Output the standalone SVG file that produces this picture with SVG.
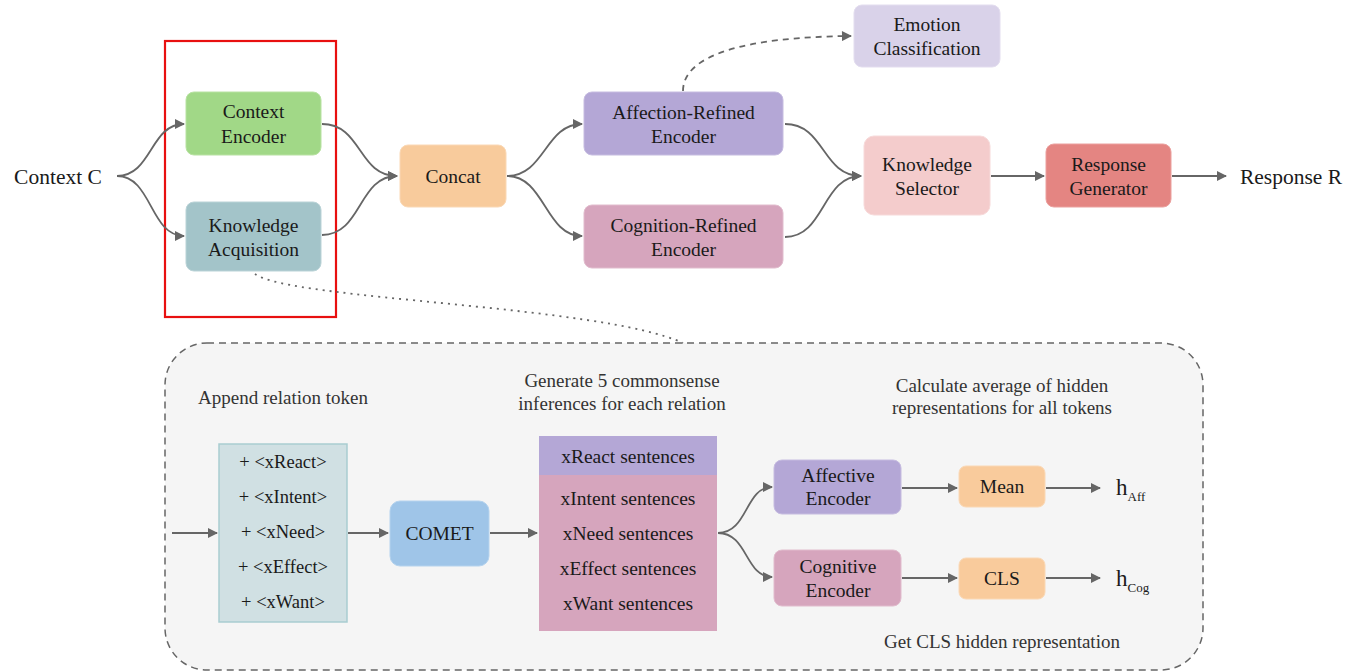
<svg xmlns="http://www.w3.org/2000/svg" width="1345" height="672" viewBox="0 0 1345 672">
<style>
text{font-family:"Liberation Serif","DejaVu Serif",serif;fill:#1a1a1a;text-anchor:middle}
.lbl{font-size:19.5px}
.sm{font-size:18.5px}
.cap{font-size:19px;fill:#333}
.edge{fill:none;stroke:#666;stroke-width:1.8}
.dash{stroke-dasharray:6 5}
.dot{stroke-dasharray:2 5}
</style>
<defs>
<marker id="ah" viewBox="0 0 10 10" refX="9" refY="5" markerWidth="11" markerHeight="10" markerUnits="userSpaceOnUse" orient="auto">
<path d="M0,0 L10,5 L0,10 z" fill="#666"/>
</marker>
</defs>
<rect x="0" y="0" width="1345" height="672" fill="#fff"/>

<g id="detail-panel">
<rect x="165" y="343" width="1038" height="327" rx="42" fill="#f5f5f5" stroke="#666" stroke-width="1.5" stroke-dasharray="7 5"/>
</g>

<g id="highlight">
<rect x="165" y="41" width="171" height="276" fill="none" stroke="#e81010" stroke-width="2.2"/>
</g>

<g id="connectors">
<path class="edge" d="M117,176 C152,176 150,124 184,124" marker-end="url(#ah)"/>
<path class="edge" d="M117,176 C152,176 150,236 184,236" marker-end="url(#ah)"/>
<path class="edge" d="M322,124 C362,124 358,176 397,176" marker-end="url(#ah)"/>
<path class="edge" d="M322,235 C362,235 358,176 397,176" marker-end="url(#ah)"/>
<path class="edge" d="M507,176 C545,176 545,124 582,124" marker-end="url(#ah)"/>
<path class="edge" d="M507,176 C545,176 545,236 582,236" marker-end="url(#ah)"/>
<path class="edge" d="M785,124 C825,124 822,176 861,176" marker-end="url(#ah)"/>
<path class="edge" d="M785,237 C825,237 822,176 861,176" marker-end="url(#ah)"/>
<path class="edge" d="M991,176 L1044,176" marker-end="url(#ah)"/>
<path class="edge" d="M1172,176 L1226,176" marker-end="url(#ah)"/>
<path class="edge dash" d="M683,91 C683,55 745,37 851,36" marker-end="url(#ah)"/>
<path class="edge dot" d="M255,274 C290,300 600,305 683,343"/>
<path class="edge" d="M172,533 L217,533" marker-end="url(#ah)"/>
<path class="edge" d="M348,533 L388,533" marker-end="url(#ah)"/>
<path class="edge" d="M490,533 L537,533" marker-end="url(#ah)"/>
<path class="edge" d="M718,533 C748,533 745,487 772,487" marker-end="url(#ah)"/>
<path class="edge" d="M718,533 C748,533 745,577 772,577" marker-end="url(#ah)"/>
<path class="edge" d="M902,488 L957,488" marker-end="url(#ah)"/>
<path class="edge" d="M1046,488 L1100,488" marker-end="url(#ah)"/>
<path class="edge" d="M902,578 L957,578" marker-end="url(#ah)"/>
<path class="edge" d="M1046,578 L1100,578" marker-end="url(#ah)"/>
</g>

<g id="context-c"><text x="58" y="184" style="font-size:21.5px">Context C</text></g>

<g id="context-encoder">
<rect x="186" y="92" width="135" height="63" rx="8" fill="#a1d887" stroke="#b8e2a2"/>
<text class="lbl" x="253.5" y="118">Context</text>
<text class="lbl" x="253.5" y="143">Encoder</text>
</g>

<g id="knowledge-acquisition">
<rect x="186" y="202" width="135" height="69" rx="8" fill="#a3c4c9" stroke="#bad3d7"/>
<text class="lbl" x="253.5" y="232">Knowledge</text>
<text class="lbl" x="253.5" y="256">Acquisition</text>
</g>

<g id="concat">
<rect x="400" y="145" width="106" height="62" rx="8" fill="#f8cb9c" stroke="#fad8b5"/>
<text class="lbl" x="453" y="183">Concat</text>
</g>

<g id="affection-refined-encoder">
<rect x="584" y="92" width="199" height="63" rx="8" fill="#b4a7d6" stroke="#c6bce0"/>
<text class="lbl" x="683.5" y="119">Affection-Refined</text>
<text class="lbl" x="683.5" y="143">Encoder</text>
</g>

<g id="cognition-refined-encoder">
<rect x="584" y="205" width="199" height="63" rx="8" fill="#d6a5bd" stroke="#e1bccd"/>
<text class="lbl" x="683.5" y="232">Cognition-Refined</text>
<text class="lbl" x="683.5" y="256">Encoder</text>
</g>

<g id="emotion-classification">
<rect x="854" y="5" width="146" height="62" rx="8" fill="#d9d2e9" stroke="#e3ddef"/>
<text class="lbl" x="927" y="31">Emotion</text>
<text class="lbl" x="927" y="55">Classification</text>
</g>

<g id="knowledge-selector">
<rect x="864" y="136" width="126" height="79" rx="10" fill="#f4cccc" stroke="#f7dada"/>
<text class="lbl" x="927" y="171">Knowledge</text>
<text class="lbl" x="927" y="195">Selector</text>
</g>

<g id="response-generator">
<rect x="1046" y="144" width="125" height="63" rx="8" fill="#e48582" stroke="#eba09e"/>
<text class="lbl" x="1108.5" y="171">Response</text>
<text class="lbl" x="1108.5" y="195">Generator</text>
</g>

<g id="response-r"><text x="1291" y="184" style="font-size:21.5px">Response R</text></g>

<g id="caption-append"><text class="cap" x="283" y="404">Append relation token</text></g>
<g id="caption-generate">
<text class="cap" x="622" y="387">Generate 5 commonsense</text>
<text class="cap" x="622" y="410">inferences for each relation</text>
</g>
<g id="caption-calculate">
<text class="cap" x="1002" y="392">Calculate average of hidden</text>
<text class="cap" x="1002" y="414">representations for all tokens</text>
</g>
<g id="caption-cls"><text class="cap" x="1002" y="648">Get CLS hidden representation</text></g>

<g id="relation-tokens">
<rect x="219" y="444" width="128" height="178" fill="#d0e0e3" stroke="#a9cdd1" stroke-width="1.5"/>
<text class="sm" x="283" y="468">+ &lt;xReact&gt;</text>
<text class="sm" x="283" y="503">+ &lt;xIntent&gt;</text>
<text class="sm" x="283" y="538">+ &lt;xNeed&gt;</text>
<text class="sm" x="283" y="573">+ &lt;xEffect&gt;</text>
<text class="sm" x="283" y="608">+ &lt;xWant&gt;</text>
</g>

<g id="comet">
<rect x="390" y="501" width="99" height="65" rx="10" fill="#9fc5e8" stroke="#b5d3ee"/>
<text class="lbl" x="439.5" y="540">COMET</text>
</g>

<g id="sentences">
<rect x="539" y="436" width="178" height="39" fill="#b4a7d6"/>
<rect x="539" y="475" width="178" height="156" fill="#d6a5bd"/>
<text class="lbl" x="628" y="463">xReact sentences</text>
<text class="lbl" x="628" y="505">xIntent sentences</text>
<text class="lbl" x="628" y="540">xNeed sentences</text>
<text class="lbl" x="628" y="575">xEffect sentences</text>
<text class="lbl" x="628" y="610">xWant sentences</text>
</g>

<g id="affective-encoder">
<rect x="774" y="460" width="127" height="54" rx="8" fill="#b4a7d6" stroke="#c6bce0"/>
<text class="lbl" x="838" y="482">Affective</text>
<text class="lbl" x="838" y="505">Encoder</text>
</g>

<g id="cognitive-encoder">
<rect x="774" y="550" width="127" height="56" rx="8" fill="#d6a5bd" stroke="#e1bccd"/>
<text class="lbl" x="838" y="573">Cognitive</text>
<text class="lbl" x="838" y="597">Encoder</text>
</g>

<g id="mean">
<rect x="959" y="466" width="86" height="41" rx="7" fill="#f9cb9c" stroke="#fad8b5"/>
<text class="lbl" x="1002" y="493">Mean</text>
</g>

<g id="cls">
<rect x="959" y="558" width="86" height="41" rx="7" fill="#f9cb9c" stroke="#fad8b5"/>
<text class="lbl" x="1002" y="585">CLS</text>
</g>

<g id="h-aff"><text x="1116" y="495" style="font-size:23px;text-anchor:start">h<tspan dy="6" style="font-size:13px">Aff</tspan></text></g>
<g id="h-cog"><text x="1116" y="586" style="font-size:23px;text-anchor:start">h<tspan dy="6" style="font-size:13px">Cog</tspan></text></g>
</svg>
